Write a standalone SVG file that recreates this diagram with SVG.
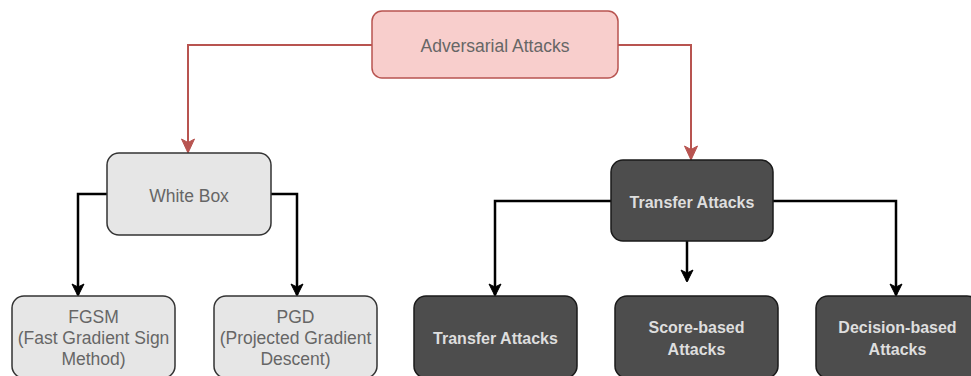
<svg xmlns="http://www.w3.org/2000/svg" width="971" height="376" viewBox="0 0 971 376">
<defs>
<marker id="ar" markerWidth="16" markerHeight="16" refX="14" refY="8" orient="auto" markerUnits="userSpaceOnUse">
<path d="M1,1.5 L15,8 L1,14.5 L4.5,8 Z" fill="#b85450" stroke="#b85450" stroke-width="1"/>
</marker>
<marker id="ab" markerWidth="14" markerHeight="14" refX="12" refY="7" orient="auto" markerUnits="userSpaceOnUse">
<path d="M1,1 L13,7 L1,13 L4,7 Z" fill="#000" stroke="#000" stroke-width="1"/>
</marker>
</defs>
<style>
.pink{fill:#f8cecc;stroke:#b85450;stroke-width:1.5}
.light{fill:#e6e6e6;stroke:#333;stroke-width:1.5}
.dark{fill:#4d4d4d;stroke:#1a1a1a;stroke-width:1.5}
.t1{font-family:"Liberation Sans",Arial,sans-serif;font-size:17.5px;fill:#666;text-anchor:middle}
.t2{font-family:"Liberation Sans",Arial,sans-serif;font-size:16px;font-weight:bold;fill:#dedede;text-anchor:middle}
.red{fill:none;stroke:#b85450;stroke-width:2}
.blk{fill:none;stroke:#000;stroke-width:2.5}
</style>
<g id="connectors">
<path class="red" d="M372,45 H188 V152" marker-end="url(#ar)"/>
<path class="red" d="M618,45 H691 V159" marker-end="url(#ar)"/>
<path class="blk" d="M107,194 H78 V295" marker-end="url(#ab)"/>
<path class="blk" d="M271,194 H297 V295" marker-end="url(#ab)"/>
<path class="blk" d="M611,201 H495 V295" marker-end="url(#ab)"/>
<path class="blk" d="M687,241 V281" marker-end="url(#ab)"/>
<path class="blk" d="M773,201 H896 V295" marker-end="url(#ab)"/>
</g>
<g id="adversarial">
<rect class="pink" x="372" y="11" width="246" height="67" rx="10"/>
<text class="t1" x="495" y="52">Adversarial Attacks</text>
</g>
<g id="whitebox">
<rect class="light" x="107" y="153" width="164" height="82" rx="12"/>
<text class="t1" x="189" y="202">White Box</text>
</g>
<g id="transfer-top">
<rect class="dark" x="611" y="160" width="162" height="81" rx="12"/>
<text class="t2" x="692" y="208">Transfer Attacks</text>
</g>
<g id="fgsm">
<rect class="light" x="12" y="296" width="163" height="82" rx="12"/>
<text class="t1" x="93.5" y="323">FGSM</text>
<text class="t1" x="93.5" y="344">(Fast Gradient Sign</text>
<text class="t1" x="93.5" y="365">Method)</text>
</g>
<g id="pgd">
<rect class="light" x="214" y="296" width="163" height="82" rx="12"/>
<text class="t1" x="295.5" y="323">PGD</text>
<text class="t1" x="295.5" y="344">(Projected Gradient</text>
<text class="t1" x="295.5" y="365">Descent)</text>
</g>
<g id="transfer">
<rect class="dark" x="414" y="296" width="163" height="82" rx="12"/>
<text class="t2" x="495.5" y="344">Transfer Attacks</text>
</g>
<g id="score">
<rect class="dark" x="615" y="296" width="163" height="82" rx="12"/>
<text class="t2" x="696.5" y="333">Score-based</text>
<text class="t2" x="696.5" y="355">Attacks</text>
</g>
<g id="decision">
<rect class="dark" x="816" y="296" width="163" height="82" rx="12"/>
<text class="t2" x="897.5" y="333">Decision-based</text>
<text class="t2" x="897.5" y="355">Attacks</text>
</g>
</svg>
